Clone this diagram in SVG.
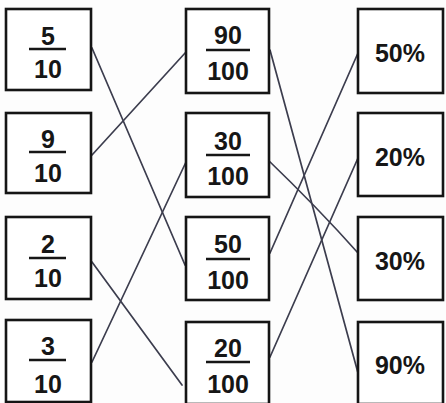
<svg xmlns="http://www.w3.org/2000/svg" width="446" height="403" viewBox="0 0 446 403">
<style>
.box{fill:#fff;stroke:#151515;stroke-width:2.6}
.t{font-family:"Liberation Sans",Arial,sans-serif;font-weight:bold;font-size:25px;fill:#161616;text-anchor:middle}
.bar{stroke:#161616;stroke-width:2.4}
.c{stroke:#3c3d4e;stroke-width:1.7;fill:none;stroke-linecap:round}
</style>
<rect width="446" height="403" fill="#fdfdfd"/>
<g id="connectors">
<line class="c" x1="92" y1="48" x2="185" y2="265"/>
<line class="c" x1="92" y1="155" x2="186" y2="52"/>
<line class="c" x1="92" y1="262" x2="182" y2="385"/>
<line class="c" x1="92" y1="362" x2="186" y2="162"/>
<line class="c" x1="270" y1="50" x2="358" y2="373"/>
<path class="c" d="M266 158 Q318 208 358 253"/>
<line class="c" x1="270" y1="253" x2="358" y2="53"/>
<line class="c" x1="270" y1="357" x2="358" y2="158"/>
</g>
<g id="n-5-10"><rect class="box" x="6" y="9" width="85" height="81"/><text class="t" x="48" y="45">5</text><line class="bar" x1="29" y1="49" x2="66" y2="49"/><text class="t" x="48" y="78">10</text></g>
<g id="n-9-10"><rect class="box" x="6" y="113" width="85" height="80"/><text class="t" x="48" y="148">9</text><line class="bar" x1="29" y1="152" x2="66" y2="152"/><text class="t" x="48" y="182">10</text></g>
<g id="n-2-10"><rect class="box" x="6" y="217" width="85" height="82"/><text class="t" x="48" y="253">2</text><line class="bar" x1="29" y1="258" x2="66" y2="258"/><text class="t" x="48" y="287">10</text></g>
<g id="n-3-10"><rect class="box" x="6" y="320" width="85" height="82"/><text class="t" x="48" y="355">3</text><line class="bar" x1="29" y1="360" x2="66" y2="360"/><text class="t" x="48" y="393">10</text></g>
<g id="n-90-100"><rect class="box" x="186" y="9" width="83" height="84"/><text class="t" x="228" y="44">90</text><line class="bar" x1="206" y1="50" x2="250" y2="50"/><text class="t" x="228" y="80">100</text></g>
<g id="n-30-100"><rect class="box" x="186" y="113" width="83" height="84"/><text class="t" x="228" y="150">30</text><line class="bar" x1="206" y1="155" x2="250" y2="155"/><text class="t" x="228" y="185">100</text></g>
<g id="n-50-100"><rect class="box" x="186" y="217" width="83" height="83"/><text class="t" x="228" y="253">50</text><line class="bar" x1="206" y1="259" x2="250" y2="259"/><text class="t" x="228" y="289">100</text></g>
<g id="n-20-100"><rect class="box" x="186" y="322" width="83" height="82"/><text class="t" x="228" y="357">20</text><line class="bar" x1="206" y1="362" x2="250" y2="362"/><text class="t" x="228" y="393">100</text></g>
<g id="n-50p"><rect class="box" x="358" y="9" width="85" height="84"/><text class="t" x="400" y="62">50%</text></g>
<g id="n-20p"><rect class="box" x="358" y="113" width="85" height="83"/><text class="t" x="400" y="166">20%</text></g>
<g id="n-30p"><rect class="box" x="358" y="217" width="85" height="83"/><text class="t" x="400" y="270">30%</text></g>
<g id="n-90p"><rect class="box" x="358" y="322" width="85" height="82"/><text class="t" x="400" y="374">90%</text></g>
</svg>
